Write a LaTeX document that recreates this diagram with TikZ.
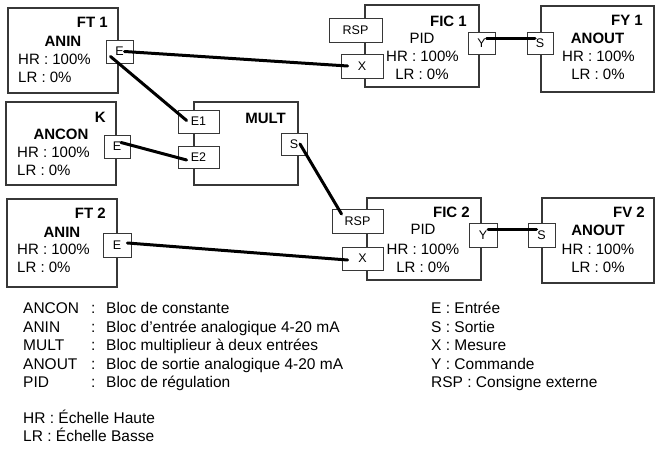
\documentclass[tikz,border=0pt]{standalone}
\usepackage{fontspec}
\setmainfont{Liberation Sans}
\usepackage{tikz}
\usetikzlibrary{positioning, calc}
\definecolor{boxgray}{RGB}{55,55,55}
\tikzset{
  block/.style={rectangle, draw=boxgray, fill=white, line width=1.1pt, inner sep=0pt},
  port/.style={rectangle, draw=boxgray, fill=white, line width=0.8pt, inner sep=0pt,
    minimum height=23pt, font=\fontsize{12.5}{14}\selectfont},
  wire/.style={line width=3pt, color=black, line cap=round},
  title/.style={anchor=base east, inner sep=0pt, font=\fontsize{15}{17}\selectfont\bfseries},
  btext/.style={inner sep=0pt, font=\fontsize{15}{17}\selectfont},
  legtext/.style={anchor=base west, inner sep=0pt, font=\fontsize{15.5}{18}\selectfont}
}

\begin{document}
\begin{tikzpicture}[x=1pt, y=-1pt]
  \useasboundingbox (0,0) rectangle (664,452);

  % ── Blocks ────────────────────────────────────────────────────────────────
  \node[block, minimum width=110pt, minimum height=85pt] (ft1) at (63,50.5) {};
  \node[block, minimum width=110pt, minimum height=83pt] (k) at (61,143.5) {};
  \node[block, minimum width=110pt, minimum height=88pt] (ft2) at (62,243) {};
  \node[block, minimum width=104pt, minimum height=83pt] (mult) at (246,143.5) {};
  \node[block, minimum width=114pt, minimum height=82pt] (fic1) at (422,46) {};
  \node[block, minimum width=113pt, minimum height=86pt] (fy1) at (597.5,49) {};
  \node[block, minimum width=114pt, minimum height=82pt] (fic2) at (424,239) {};
  \node[block, minimum width=112pt, minimum height=85pt] (fv2) at (598,240.5) {};

  % ── Block texts ───────────────────────────────────────────────────────────
  \node[title] (ft1t) at (108,28) {FT 1};
  \node[btext, anchor=base, font=\fontsize{15}{17}\selectfont\bfseries] (ft1a) at (63,47) {ANIN};
  \node[btext, anchor=base west] (ft1h) at (18,64) {HR : 100\%};
  \node[btext, anchor=base west] (ft1l) at (18,82) {LR : 0\%};

  \node[title] (kt) at (106,122) {K};
  \node[btext, anchor=base, font=\fontsize{15}{17}\selectfont\bfseries] (ka) at (61,139) {ANCON};
  \node[btext, anchor=base west] (kh) at (17,157) {HR : 100\%};
  \node[btext, anchor=base west] (kl) at (17,175) {LR : 0\%};

  \node[title] (ft2t) at (106,218) {FT 2};
  \node[btext, anchor=base, font=\fontsize{15}{17}\selectfont\bfseries] (ft2a) at (62,237) {ANIN};
  \node[btext, anchor=base west] (ft2h) at (17,254) {HR : 100\%};
  \node[btext, anchor=base west] (ft2l) at (17,272) {LR : 0\%};

  \node[title] (multt) at (286,123) {MULT};

  \node[title] (fic1t) at (467,27) {FIC 1};
  \node[btext, anchor=base] (fic1a) at (422,44) {PID};
  \node[btext, anchor=base] (fic1h) at (422.5,62) {HR : 100\%};
  \node[btext, anchor=base] (fic1l) at (422,80) {LR : 0\%};

  \node[title] (fy1t) at (643,26) {FY 1};
  \node[btext, anchor=base, font=\fontsize{15}{17}\selectfont\bfseries] (fy1a) at (597.5,44) {ANOUT};
  \node[btext, anchor=base] (fy1h) at (598.5,62) {HR : 100\%};
  \node[btext, anchor=base] (fy1l) at (598,80) {LR : 0\%};

  \node[title] (fic2t) at (470,217) {FIC 2};
  \node[btext, anchor=base] (fic2a) at (423,234) {PID};
  \node[btext, anchor=base] (fic2h) at (423,254) {HR : 100\%};
  \node[btext, anchor=base] (fic2l) at (423,272) {LR : 0\%};

  \node[title] (fv2t) at (645,217) {FV 2};
  \node[btext, anchor=base, font=\fontsize{15}{17}\selectfont\bfseries] (fv2a) at (598,235) {ANOUT};
  \node[btext, anchor=base] (fv2h) at (598,254) {HR : 100\%};
  \node[btext, anchor=base] (fv2l) at (598,272) {LR : 0\%};

  % ── Ports ─────────────────────────────────────────────────────────────────
  \node[port, minimum width=27pt] (ft1e) at (119.5,51.5) {E};
  \node[port, minimum width=26pt] (ke) at (117,146.5) {E};
  \node[port, minimum width=28pt, minimum height=24pt] (ft2e) at (117,245) {E};
  \node[port, minimum width=41pt] (multe1) at (198.5,121.5) {E1};
  \node[port, minimum width=41pt, minimum height=22pt] (multe2) at (198.5,157) {E2};
  \node[port, minimum width=26pt, minimum height=22pt] (mults) at (294,144) {S};
  \node[port, minimum width=53pt, minimum height=24pt] (fic1rsp) at (355.5,30) {RSP};
  \node[port, minimum width=42pt, minimum height=24pt] (fic1x) at (362,66) {X};
  \node[port, minimum width=27pt, minimum height=22pt] (fic1y) at (481.5,43) {Y};
  \node[port, minimum width=26pt, minimum height=22pt] (fy1s) at (540,43) {S};
  \node[port, minimum width=51pt, minimum height=24pt] (fic2rsp) at (357.5,221) {RSP};
  \node[port, minimum width=41pt] (fic2x) at (362.5,258.5) {X};
  \node[port, minimum width=28pt, minimum height=24pt] (fic2y) at (483,235) {Y};
  \node[port, minimum width=27pt, minimum height=24pt] (fv2s) at (541.5,235) {S};

  % ── Wiring ────────────────────────────────────────────────────────────────
  \draw[wire] ([xshift=5pt]ft1e.center) -- ([xshift=7pt]fic1x.west);
  \draw[wire] ([xshift=-9pt,yshift=-5pt]ft1e.center) -- ([xshift=9pt,yshift=1pt]multe1.west);
  \draw[wire] ([xshift=4pt,yshift=4pt]ke.center) -- ([xshift=9pt,yshift=-3pt]multe2.west);
  \draw[wire] ([xshift=6pt]mults.center) -- ([xshift=-16pt,yshift=7pt]fic2rsp.center);
  \draw[wire] ([xshift=-4pt,yshift=2pt]ft2e.east) -- ([xshift=6pt,yshift=-1.5pt]fic2x.west);
  \draw[wire] ([xshift=5pt,yshift=4pt]fic1y.center) -- ([xshift=-5pt,yshift=4pt]fy1s.center);
  \draw[wire] ([xshift=5pt,yshift=6pt]fic2y.center) -- ([xshift=-5pt,yshift=6pt]fv2s.center);

  % ── Legend ────────────────────────────────────────────────────────────────
  \foreach \nm/\desc [count=\i] in {ANCON/Bloc de constante,
      ANIN/Bloc d'entrée analogique 4-20 mA,
      MULT/Bloc multiplieur à deux entrées,
      ANOUT/Bloc de sortie analogique 4-20 mA,
      PID/Bloc de régulation} {
    \node[legtext] (leg\i) at (23,295+18.5*\i) {\nm};
    \node[legtext] (legc\i) at (91,295+18.5*\i) {:};
    \node[legtext] (legd\i) at (106,295+18.5*\i) {\desc};
  }
  \foreach \txt [count=\i] in {E : Entrée, S : Sortie, X : Mesure, Y : Commande,
      RSP : Consigne externe} {
    \node[legtext] (key\i) at (431,295+18.5*\i) {\txt};
  }
  \node[legtext] (leghr) at (23,423) {HR : Échelle Haute};
  \node[legtext] (leglr) at (23,441) {LR : Échelle Basse};
\end{tikzpicture}
\end{document}
